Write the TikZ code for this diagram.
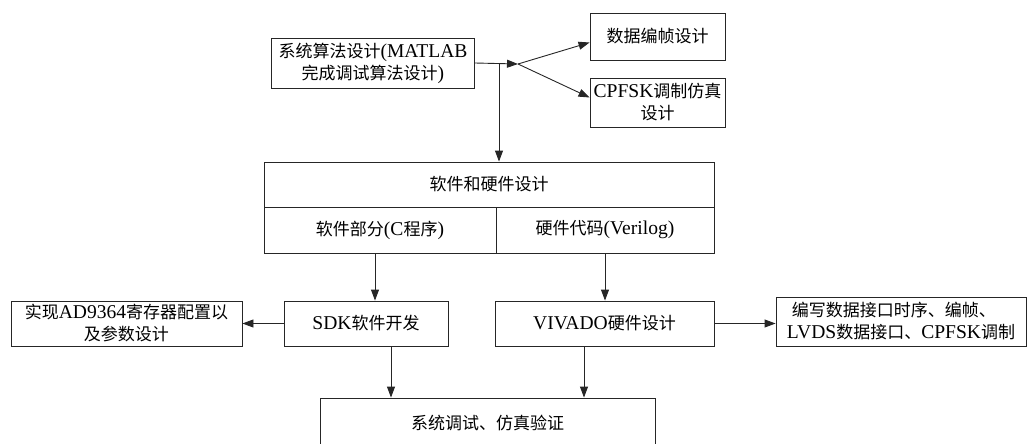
\documentclass[tikz,border=0pt]{standalone}
\usepackage{fontspec}
\setmainfont{Liberation Serif}[Scale=1.15]
\newfontfamily\cjk{Noto Sans CJK SC}
\newcommand\zh[1]{{\cjk #1}}
\usetikzlibrary{arrows.meta,calc}
\tikzset{
  box/.style={draw=black!85,line width=0.9pt,rectangle,inner sep=0pt,align=center,
    font=\fontsize{17}{22}\selectfont},
  conn/.style={draw=black!85,line width=0.9pt},
  arr/.style={conn,-{Triangle[length=11pt,width=8pt]}},
}
\begin{document}
\begin{tikzpicture}[x=1pt,y=-1pt]
\useasboundingbox (0,0) rectangle (1028,444);
\clip (0,0) rectangle (1028,444);
\node[box,minimum width=203pt,minimum height=50pt] (algo) at (373,63)
  {\zh{系统算法设计}(MATLAB\\\zh{完成调试算法设计})};
\node[box,minimum width=135pt,minimum height=47pt] (frame) at (657.5,36.5) {\zh{数据编帧设计}};
\node[box,minimum width=135pt,minimum height=49pt] (cpfsk) at (657.5,102.5)
  {CPFSK\zh{调制仿真}\\\zh{设计}};
\node[box,minimum width=450pt,minimum height=45pt] (swhw) at (489,184.5) {\zh{软件和硬件设计}};
\node[box,minimum width=232pt,minimum height=46pt] (sw) at (380,230) {\zh{软件部分}(C\zh{程序})};
\node[box,minimum width=218pt,minimum height=46pt] (hw) at (605,230) {\zh{硬件代码}(Verilog)};
\node[box,minimum width=164pt,minimum height=45pt] (sdk) at (366,323.5) {SDK\zh{软件开发}};
\node[box,minimum width=231pt,minimum height=45pt] (ad) at (126.5,323.5)
  {\zh{实现}AD9364\zh{寄存器配置以}\\\zh{及参数设计}};
\node[box,minimum width=219pt,minimum height=45pt] (viv) at (604.5,323.5) {VIVADO\zh{硬件设计}};
\node[box,minimum width=250pt,minimum height=49pt,align=left] (lvds) at (901,321.5)
  {\ \zh{编写数据接口时序、编帧、}\\LVDS\zh{数据接口、}CPFSK\zh{调制}};
\node[box,minimum width=335pt,minimum height=50pt] (test) at (487.5,423) {\zh{系统调试、仿真验证}};
% connectors
\coordinate (J) at (518,64);
\coordinate (V) at (499,63);
\draw[arr] (algo.east) -- (J);
\draw[arr] (J) -- ($(frame.west)+(0,6)$);
\draw[arr] (J) -- ($(cpfsk.west)+(0,-5)$);
\draw[arr] (V) -- (V |- swhw.north);
\coordinate (S1) at ($(sw.south)+(-5,0)$);
\draw[arr] (S1) -- (S1 |- sdk.north);
\draw[arr] (hw.south) -- (hw.south |- viv.north);
\draw[arr] (sdk.west) -- (ad.east);
\draw[arr] (viv.east) -- (viv.east -| lvds.west);
\coordinate (S2) at ($(sdk.south)+(25,0)$);
\draw[arr] (S2) -- (S2 |- test.north);
\coordinate (S3) at ($(viv.south)+(-20.5,0)$);
\draw[arr] (S3) -- (S3 |- test.north);
\end{tikzpicture}
\end{document}
